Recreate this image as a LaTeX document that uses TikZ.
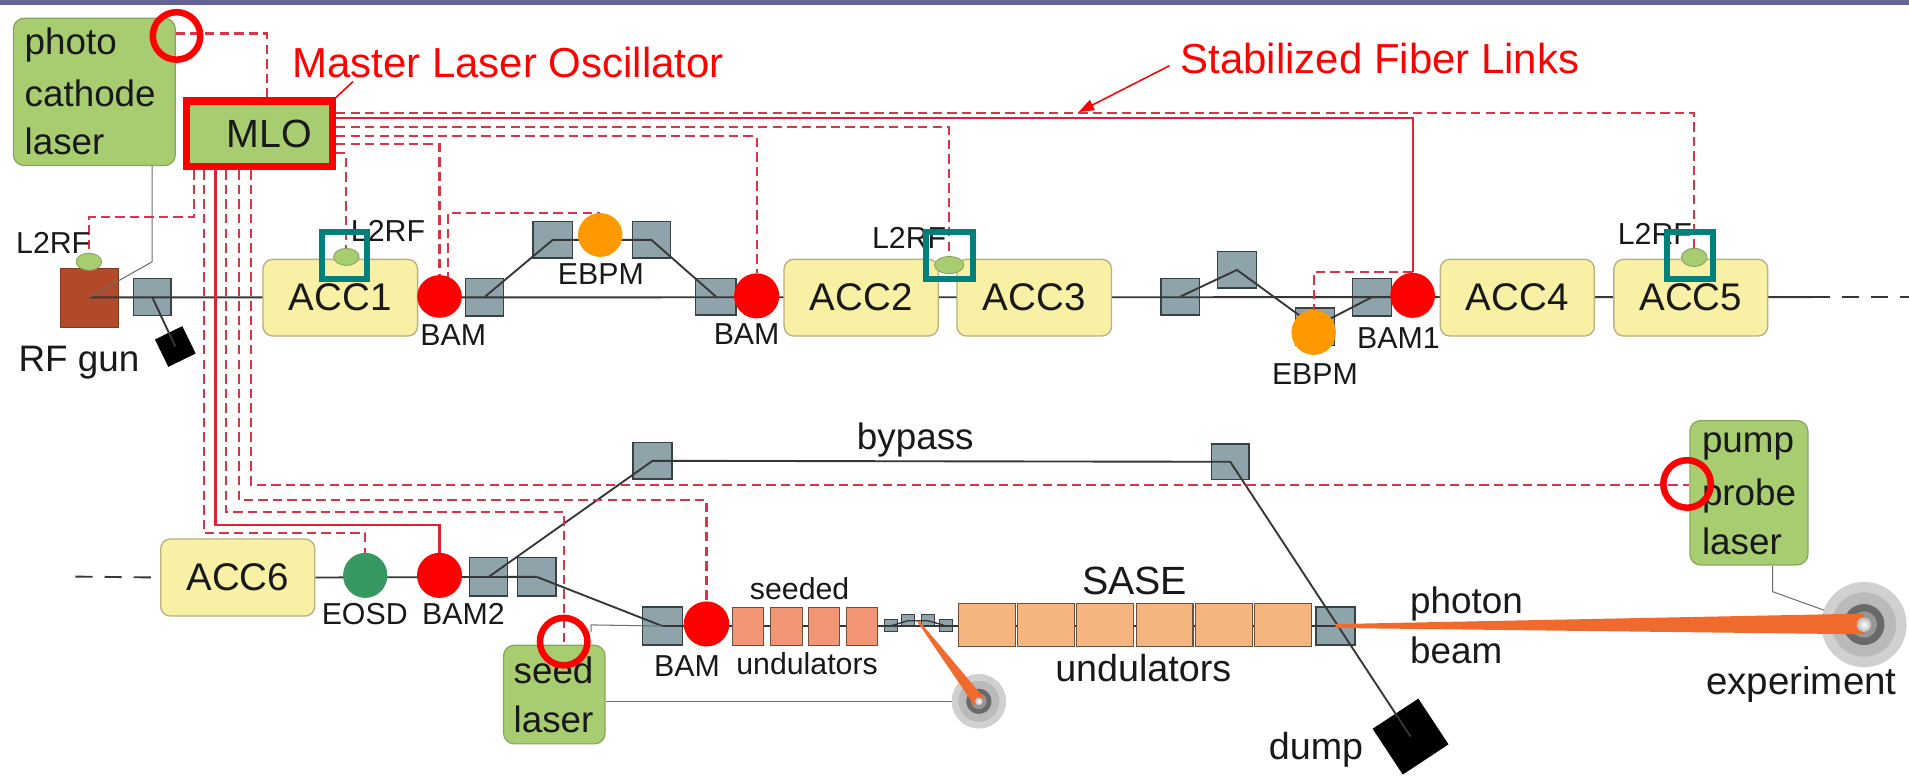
\documentclass[tikz,border=0pt]{standalone}
\usepackage{fontspec}
\setmainfont{Liberation Sans}
\usetikzlibrary{arrows.meta,calc,shapes.geometric}
\pgfdeclarelayer{bg}
\pgfdeclarelayer{wires}
\pgfsetlayers{bg,wires,main}

\definecolor{barpurple}{RGB}{100,100,150}
\definecolor{laserfill}{RGB}{168,205,112}
\definecolor{laserline}{RGB}{135,165,95}
\definecolor{accfill}{RGB}{248,240,165}
\definecolor{accline}{RGB}{185,178,128}
\definecolor{magfill}{RGB}{143,163,171}
\definecolor{magline}{RGB}{55,65,70}
\definecolor{fibcol}{RGB}{218,52,72}
\definecolor{fibsolid}{RGB}{222,36,52}
\definecolor{bamred}{RGB}{255,0,0}
\definecolor{ebpmor}{RGB}{255,153,0}
\definecolor{eosdgr}{RGB}{55,152,98}
\definecolor{tealc}{RGB}{0,128,122}
\definecolor{gunbrown}{RGB}{178,74,42}
\definecolor{seedund}{RGB}{242,150,118}
\definecolor{saseund}{RGB}{246,180,126}
\definecolor{undline}{RGB}{110,80,60}
\definecolor{photonc}{RGB}{240,106,45}
\definecolor{beamgray}{RGB}{55,55,55}
\definecolor{guidegray}{RGB}{110,110,110}
\definecolor{txt}{RGB}{25,25,25}
\definecolor{tgtA}{RGB}{208,208,208}
\definecolor{tgtB}{RGB}{186,186,186}
\definecolor{tgtC}{RGB}{105,105,105}
\definecolor{tgtD}{RGB}{150,150,150}

\tikzset{
  sz/.style 2 args={minimum width={#1*0.025cm}, minimum height={#2*0.025cm}},
  laserbox/.style={draw=laserline, fill=laserfill, line width=0.7pt, rounded corners=0.22cm, inner sep=0},
  mlobox/.style={draw=bamred, fill=laserfill, line width=4.2pt, inner sep=0},
  accbox/.style={draw=accline, fill=accfill, line width=0.8pt, rounded corners=0.2cm, inner sep=0, text=txt, font=\fontsize{22.5}{26}\selectfont},
  magnet/.style={draw=magline, fill=magfill, line width=0.8pt, inner sep=0},
  tinymag/.style={magnet, line width=0.5pt, sz={10.5}{10}},
  bam/.style={ellipse, fill=bamred, inner sep=0},
  ebpm/.style={ellipse, fill=ebpmor, inner sep=0},
  l2rf/.style={ellipse, fill=laserfill, draw=laserline, line width=0.5pt, inner sep=0},
  tealbox/.style={draw=tealc, line width=3.6pt, inner sep=0},
  ring/.style={circle, draw=bamred, line width=3.8pt, inner sep=0, minimum size={39*0.025cm}},
  seedbox/.style={draw=undline, fill=seedund, line width=0.6pt, inner sep=0, sz={25.5}{30.8}},
  sasebox/.style={draw=undline, fill=saseund, line width=0.6pt, inner sep=0, sz={46.8}{35}},
  beam/.style={draw=beamgray, line width=1.1pt},
  beamdash/.style={draw=beamgray, line width=1.1pt, dash pattern=on 10pt off 7pt},
  guide/.style={draw=guidegray, line width=0.6pt},
  fiber/.style={draw=fibcol, line width=1.2pt, dash pattern=on 5.5pt off 3pt},
  fibersolid/.style={draw=fibsolid, line width=1.3pt},
  lbl/.style={inner sep=0, anchor=base west, text=txt, font=\fontsize{21.5}{26}\selectfont},
  sml/.style={inner sep=0, anchor=base west, text=txt, font=\fontsize{17.7}{21}\selectfont},
  redtitle/.style={inner sep=0, anchor=base west, text=bamred, font=\fontsize{24.5}{29}\selectfont},
}

\begin{document}
\begin{tikzpicture}[x=0.025cm,y=-0.025cm]
\useasboundingbox (0,0) rectangle (1568,637);

% ---------- background, gun, dumps and magnets ----------
\begin{pgfonlayer}{bg}
  \fill[white] (0,0) rectangle (1568,637);
  \fill[barpurple] (0,0) rectangle (1568,4.5);
  \node[fill=gunbrown, draw=gunbrown!75!black, line width=0.4pt, inner sep=0, sz={47.5}{48.6}] (gun) at (73.25,244.3) {};
  \node[fill=black, inner sep=0, sz={25}{25}, rotate=26] (d0) at (144,284.6) {};
  \node[fill=black, inner sep=0, sz={45}{45}, rotate=33.4] (dump) at (1158.6,605) {};
  % dipoles / kickers
  \node[magnet, sz={31}{30}]     (m0)  at (125,244) {};
  \node[magnet, sz={31.6}{31}]   (m1)  at (398,244) {};
  \node[magnet, sz={32.5}{30}]   (m2)  at (454,197) {};
  \node[magnet, sz={31}{30}]     (m3)  at (535,197) {};
  \node[magnet, sz={33}{30}]     (m4)  at (588,243.6) {};
  \node[magnet, sz={31.8}{30}]   (m5)  at (969.5,243.6) {};
  \node[magnet, sz={31.6}{30}]   (m6)  at (1016,221.7) {};
  \node[magnet, sz={32}{30.6}]   (m7)  at (1080,268.3) {};
  \node[magnet, sz={32}{31}]     (m8)  at (1127,244) {};
  \node[magnet, sz={31.3}{31.5}] (m9)  at (401.4,473.8) {};
  \node[magnet, sz={31.6}{31.5}] (m10) at (440.8,473.8) {};
  \node[magnet, sz={32}{30}]     (m11) at (536,378.5) {};
  \node[magnet, sz={31}{29.5}]   (m12) at (1010.5,379.3) {};
  \node[magnet, sz={33}{31.2}]   (m13) at (544,514.2) {};
  \node[magnet, sz={32}{31.2}]   (m14) at (1097,514.2) {};
  \node[tinymag] (t1) at (731.7,514) {};
  \node[tinymag] (t2) at (745.6,509.9) {};
  \node[tinymag] (t3) at (762.3,509.9) {};
  \node[tinymag] (t4) at (776.9,514) {};
\end{pgfonlayer}

% ---------- lasers and MLO ----------
\node[laserbox, sz={133}{121}] (pcl) at (77.5,75.5) {};
\node[lbl] (pclA) at (20,45) {photo};
\node[lbl] (pclB) at (20,87.6) {cathode};
\node[lbl] (pclC) at (20,127.3) {laser};

\node[mlobox, sz={120}{54}] (mlo) at (213,110) {};
\node[inner sep=0, text=txt, font=\fontsize{23}{27}\selectfont] (mloT) at (221,110) {MLO};

\node[redtitle] (mst) at (240,63.5) {Master Laser Oscillator};
\node[redtitle] (stab) at (969.5,60) {Stabilized Fiber Links};

\node[laserbox, sz={83.4}{81}] (seed) at (455.3,570.5) {};
\node[lbl] (seedA) at (421.6,561) {seed};
\node[lbl] (seedB) at (421.6,602) {laser};

\node[laserbox, sz={97}{118.5}] (pp) at (1436.5,404.75) {};
\node[lbl] (ppA) at (1397.7,372) {pump};
\node[lbl] (ppB) at (1397.7,414.8) {probe};
\node[lbl] (ppC) at (1397.7,455.5) {laser};

% ---------- upper linac ----------
\node[lbl] (gunT) at (15,305) {RF gun};
\node[l2rf, sz={21}{14}] (e0) at (73,215) {};
\node[sml] (l0) at (13,208) {L2RF};

\node[accbox, sz={127}{63}]   (acc1) at (279.5,244.5) {ACC1};
\node[accbox, sz={126.6}{63}] (acc2) at (707.3,244.5) {ACC2};
\node[accbox, sz={127}{63}]   (acc3) at (849.5,244.5) {ACC3};
\node[accbox, sz={126.6}{63}] (acc4) at (1246.3,244.5) {ACC4};
\node[accbox, sz={126.4}{63}] (acc5) at (1388.8,244.5) {ACC5};

\node[sml] (l1) at (288,198.5) {L2RF};
\node[sml] (l2) at (716,204) {L2RF};
\node[sml] (l5) at (1328.6,201) {L2RF};
\node[l2rf, sz={21}{14}] (e1) at (284.5,211) {};
\node[l2rf, sz={24}{14}] (e2) at (779.7,217.7) {};
\node[l2rf, sz={21}{15}] (e5) at (1391.6,211.4) {};
\node[tealbox, sz={37}{38.5}]   (q1) at (283,209.75) {};
\node[tealbox, sz={39}{39}]     (q2) at (779.8,209.8) {};
\node[tealbox, sz={37.5}{38.5}] (q5) at (1388.3,209.75) {};

\node[bam, sz={36.6}{35}]  (bama) at (361,243.5) {};
\node[bam, sz={37}{37}]    (bamb) at (621.5,243) {};
\node[bam, sz={36.6}{37}]  (bam1) at (1160.3,242.6) {};
\node[ebpm, sz={36.5}{36}] (ebpma) at (493,193) {};
\node[ebpm, sz={36.5}{37}] (ebpmb) at (1079,273) {};
\node[sml] (bamaT) at (345,283.4) {BAM};
\node[sml] (bambT) at (586,283) {BAM};
\node[sml] (bam1T) at (1114.5,286) {BAM1};
\node[sml] (ebpmaT) at (458,234) {EBPM};
\node[sml] (ebpmbT) at (1044.5,316) {EBPM};

% ---------- lower section ----------
\node[accbox, sz={126.5}{63.3}] (acc6) at (195.25,474.35) {ACC6};
\node[ellipse, fill=eosdgr, inner sep=0, sz={36.4}{37}] (eosd) at (300,472.6) {};
\node[bam, sz={37}{37}]   (bam2) at (361,472.6) {};
\node[bam, sz={37.4}{37}] (bam3) at (580.3,512.5) {};
\node[sml] (eosdT) at (264,513) {EOSD};
\node[sml] (bam2T) at (346.5,513) {BAM2};
\node[sml] (bam3T) at (537,556) {BAM};
\node[lbl] (byT) at (703.6,369.6) {bypass};

\node[seedbox] (u1) at (614.2,514.4) {};
\node[seedbox] (u2) at (646,514.4) {};
\node[seedbox] (u3) at (677,514.4) {};
\node[seedbox] (u4) at (708.3,514.4) {};
\node[sml] (seedT) at (615.7,492.8) {seeded};
\node[sml] (undT) at (604.5,554.4) {undulators};

\node[sasebox] (s1) at (810.7,513.5) {};
\node[sasebox] (s2) at (859.3,513.5) {};
\node[sasebox] (s3) at (907.9,513.5) {};
\node[sasebox] (s4) at (956.5,513.5) {};
\node[sasebox] (s5) at (1005.1,513.5) {};
\node[sasebox] (s6) at (1053.7,513.5) {};
\node[inner sep=0, anchor=base west, text=txt, font=\fontsize{23}{27}\selectfont] (saseT) at (888.6,488.7) {SASE};
\node[inner sep=0, anchor=base west, text=txt, font=\fontsize{22}{26}\selectfont] (saseU) at (866.5,560) {undulators};

\node[lbl] (phA) at (1158,503.7) {photon};
\node[lbl] (phB) at (1158,544.8) {beam};
\node[inner sep=0, anchor=base west, text=txt, font=\fontsize{22.5}{27}\selectfont] (expT) at (1401,570.8) {experiment};
\node[inner sep=0, anchor=base west, text=txt, font=\fontsize{22}{26}\selectfont] (dumpT) at (1042,624) {dump};

% experiment target and photon beam
\node[circle, fill=tgtA, inner sep=0, minimum size=1.75cm] (exp) at (1531,513) {};
\fill[tgtB] (exp.center) circle[radius=0.66cm];
\fill[tgtC] (exp.center) circle[radius=0.42cm];
\fill[tgtD] (exp.center) circle[radius=0.27cm];
\fill[photonc] ([shift={(0,-1.6)}]m14.center) -- ([shift={(0,-9)}]exp.center)
  -- ([shift={(0,8)}]exp.center) -- ([shift={(0,1.6)}]m14.center) -- cycle;
\shade[inner color=white, outer color=gray!55] (exp.center) circle[radius=0.15cm];

% seed-side target and its photon beam
\node[circle, fill=tgtA, inner sep=0, minimum size=1.12cm] (st) at (804,576) {};
\fill[tgtB] (st.center) circle[radius=0.42cm];
\fill[tgtC] (st.center) circle[radius=0.26cm];
\fill[tgtD] (st.center) circle[radius=0.16cm];
\coordinate (tgap) at ($(t2.center)!0.5!(t3.center)$);
\fill[photonc] ([shift={(-1,0)}]tgap) -- ([shift={(-4,3)}]st.center)
  -- ([shift={(4,-3)}]st.center) -- ([shift={(1,0)}]tgap) -- cycle;
\shade[inner color=white, outer color=gray!55] (st.center) circle[radius=0.08cm];

% open red rings marking the laser synchronisation points
\node[ring] (pcring) at (145,29.5) {};
\node[ring] (sring) at (463,527) {};
\node[ring] (ppring) at (1385.7,397.5) {};

% pointers to the red titles
\coordinate (arrtip) at (886,92);
\draw[draw=bamred, line width=0.9pt] (mlo.north east) -- ([shift={(50,3.5)}]mst.base west);
\draw[draw=bamred, line width=0.9pt, -{Triangle[length=9pt,width=6.5pt]}] ([shift={(-9,-6)}]stab.base west) -- (arrtip);

% ---------- beam lines, guide lines and fibre links ----------
\coordinate (topend) at (1489,244);
\coordinate (topedge) at (1568,244);
\coordinate (lowstart) at (62,473.6);
\coordinate (pcA) at (125,215);
\coordinate (sk) at (485.5,513.3);
\coordinate (ppk) at (1456,486);
\coordinate (yP) at (0,27.5);
\coordinate (xP) at (219,0);
\coordinate (yA) at (0,92.5);
\coordinate (yB) at (0,96.8);
\coordinate (yC) at (0,104.5);
\coordinate (yD) at (0,112);
\coordinate (yE) at (0,118.5);
\coordinate (yF) at (0,126);
\coordinate (xg0) at (159.5,0);
\coordinate (xg1) at (167.5,0);
\coordinate (xg2) at (177,0);
\coordinate (xg3) at (185.5,0);
\coordinate (xg4) at (196,0);
\coordinate (xg5) at (206,0);
\coordinate (yG0) at (0,178.5);
\coordinate (yH1) at (0,438);
\coordinate (yH2) at (0,431);
\coordinate (yH3) at (0,420.6);
\coordinate (yH4) at (0,410.7);
\coordinate (yH5) at (0,398);

\begin{pgfonlayer}{wires}
  % upper beam line
  \draw[beam] (gun.center) -- (topend);
  \draw[beamdash] (topend) -- (topedge);
  \draw[beam] (m0.center) -- (d0.center);
  \draw[beam] (m1.center) -- (m2.center) -- (m3.center) -- (m4.center);
  \draw[beam] (m5.center) -- (m6.center) -- (m7.center) -- (m8.center);
  % lower beam line, bypass and dump
  \draw[beamdash] (lowstart) -- (acc6.west);
  \draw[beam] (acc6.east) -- (m10.center);
  \draw[beam] (m9.center) -- (m11.center) -- (m12.center) -- (dump.center);
  \draw[beam] (m10.center) -- (m13.center) -- (m14.center);
  \draw[beam, line width=0.8pt] (t1.center) -- (t2.center) -- (t3.center) -- (t4.center);
  % laser guide lines
  \draw[guide] (pcA |- pcl.south) -- (pcA) -- (gun.center);
  \draw[guide] ([shift={(0,6)}]sk) -- (sk) -- (m13.center);
  \draw[guide] (seed.east |- st.center) -- (st.center);
  \draw[guide] (ppk |- pp.south) -- (ppk) -- (exp.center);
  % stabilized fibre links from the MLO
  \draw[fiber] (pcl.east |- yP) -| (xP |- mlo.north);
  \draw[fiber] (mlo.east |- yA) -| (e5.north);
  \draw[fibersolid] (mlo.east |- yB) -| (bam1.north);
  \draw[fiber] (mlo.east |- yC) -| (e2.north);
  \draw[fiber] (mlo.east |- yD) -| (bamb.north);
  \draw[fiber] (mlo.east |- yE) -| (bama.north);
  \draw[fiber] (mlo.east |- yF) -| (e1.north);
  \draw[fiber] ([shift={(7,0)}]bama.center) |- (ebpma.north);
  \draw[fiber] ([shift={(0,-19)}]bam1.center) -| (ebpmb.north);
  \draw[fiber] (xg0 |- mlo.south) -- (xg0 |- yG0) -| (e0.north);
  \draw[fiber] (xg1 |- mlo.south) -- (xg1 |- yH1) -| (eosd.north);
  \draw[fibersolid] (xg2 |- mlo.south) -- (xg2 |- yH2) -| (bam2.north);
  \draw[fiber] (xg3 |- mlo.south) -- (xg3 |- yH3) -| (sring |- seed.north);
  \draw[fiber] (xg4 |- mlo.south) -- (xg4 |- yH4) -| (bam3.north);
  \draw[fiber] (xg5 |- mlo.south) -- (xg5 |- yH5) -- (pp.west |- yH5);
\end{pgfonlayer}
\end{tikzpicture}
\end{document}
